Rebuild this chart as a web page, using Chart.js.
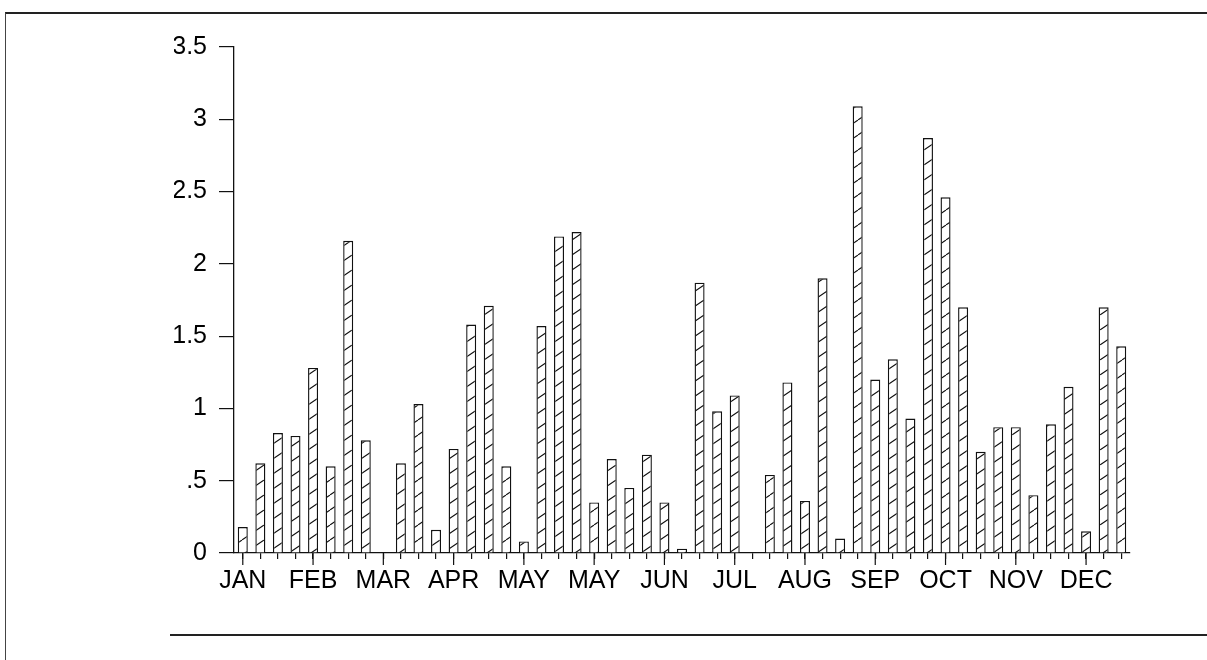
<!DOCTYPE html>
<html>
<head>
<meta charset="utf-8">
<script src="https://cdn.jsdelivr.net/npm/chart.js@4.4.0/dist/chart.umd.min.js"></script>
<style>
  body { margin: 0; background: #fff; }
  #wrap { position: relative; width: 1207px; height: 660px; overflow: hidden; }
  #frame { position: absolute; left: 5px; top: 12px; width: 1210px; height: 660px;
           border-top: 2px solid #222; border-left: 1px solid #444; }
  #bottomLine { position: absolute; left: 170px; top: 634px; width: 1040px; height: 0;
                border-top: 2px solid #222; }
  canvas { position: absolute; left: 0; top: 0; }
</style>
</head>
<body>
<div id="wrap">
  <div id="frame"></div>
  <div id="bottomLine"></div>
  <canvas id="myChart" width="1207" height="660"></canvas>
</div>
<script>
// month names shown under every 4th bar
var months = ['JAN','FEB','MAR','APR','MAY','MAY','JUN','JUL','AUG','SEP','OCT','NOV','DEC'];
// one value per bar slot (51 slots, two empty)
var values = [0.18, 0.62, 0.83, 0.81, 1.28, 0.60, 2.16, 0.78, null,
              0.62, 1.03, 0.16, 0.72, 1.58, 1.71, 0.60, 0.08, 1.57,
              2.19, 2.22, 0.35, 0.65, 0.45, 0.68, 0.35, 0.03, 1.87,
              0.98, 1.09, null, 0.54, 1.18, 0.36, 1.90, 0.10, 3.09,
              1.20, 1.34, 0.93, 2.87, 2.46, 1.70, 0.70, 0.87, 0.87,
              0.40, 0.89, 1.15, 0.15, 1.70, 1.43];
var yTickLabels = ['0', '.5', '1', '1.5', '2', '2.5', '3', '3.5'];

var labels = values.map(function (v, i) {
  return i % 4 == 0 ? months[i / 4] : '';
});

// diagonal hatch pattern
function hatch() {
  var c = document.createElement('canvas');
  c.width = 22; c.height = 15;
  var g = c.getContext('2d');
  g.fillStyle = '#fff';
  g.fillRect(0, 0, 22, 15);
  g.strokeStyle = '#111';
  g.lineWidth = 1.1;
  g.beginPath();
  g.moveTo(-22, 15); g.lineTo(0, 0);
  g.moveTo(0, 15); g.lineTo(22, 0);
  g.moveTo(22, 15); g.lineTo(44, 0);
  g.stroke();
  return g.createPattern(c, 'repeat');
}

// longer ticks under the month labels
var monthTicks = {
  id: 'monthTicks',
  afterDraw: function (chart) {
    var x = chart.scales.x;
    var ctx = chart.ctx;
    ctx.save();
    ctx.strokeStyle = '#111';
    ctx.lineWidth = 1.2;
    labels.forEach(function (l, i) {
      if (!l) return;
      var px = x.getPixelForValue(i);
      ctx.beginPath();
      ctx.moveTo(px, x.top);
      ctx.lineTo(px, x.top + 12);
      ctx.stroke();
    });
    ctx.restore();
  }
};

const ctx = document.getElementById('myChart');
new Chart(ctx, {
  type: 'bar',
  data: {
    labels: labels,
    datasets: [{
      data: values,
      backgroundColor: hatch(),
      borderColor: '#111',
      borderWidth: 1.4,
      barPercentage: 0.57,
      categoryPercentage: 1
    }]
  },
  plugins: [monthTicks],
  options: {
    responsive: false,
    animation: false,
    layout: { padding: { left: 174, right: 77, top: 47, bottom: 57 } },
    plugins: { legend: { display: false }, tooltip: { enabled: false } },
    scales: {
      x: {
        afterFit: function (s) { s.height = 50; },
        grid: { offset: false, drawOnChartArea: false, tickLength: 6, color: '#111', lineWidth: 1.2 },
        border: { display: true, color: '#111', width: 1.3 },
        ticks: {
          autoSkip: false, maxRotation: 0, padding: 7, color: '#000',
          font: { family: 'Liberation Sans', size: 25 }
        }
      },
      y: {
        min: 0, max: 3.5,
        afterFit: function (s) { s.width = 60; },
        grid: { drawOnChartArea: false, tickLength: 15, color: '#111', lineWidth: 1.2 },
        border: { display: true, color: '#111', width: 1.3 },
        ticks: {
          stepSize: 0.5, padding: 12, color: '#000',
          font: { family: 'Liberation Sans', size: 25 },
          callback: function (v, i) { return yTickLabels[i]; }
        }
      }
    }
  }
});
</script>
</body>
</html>
